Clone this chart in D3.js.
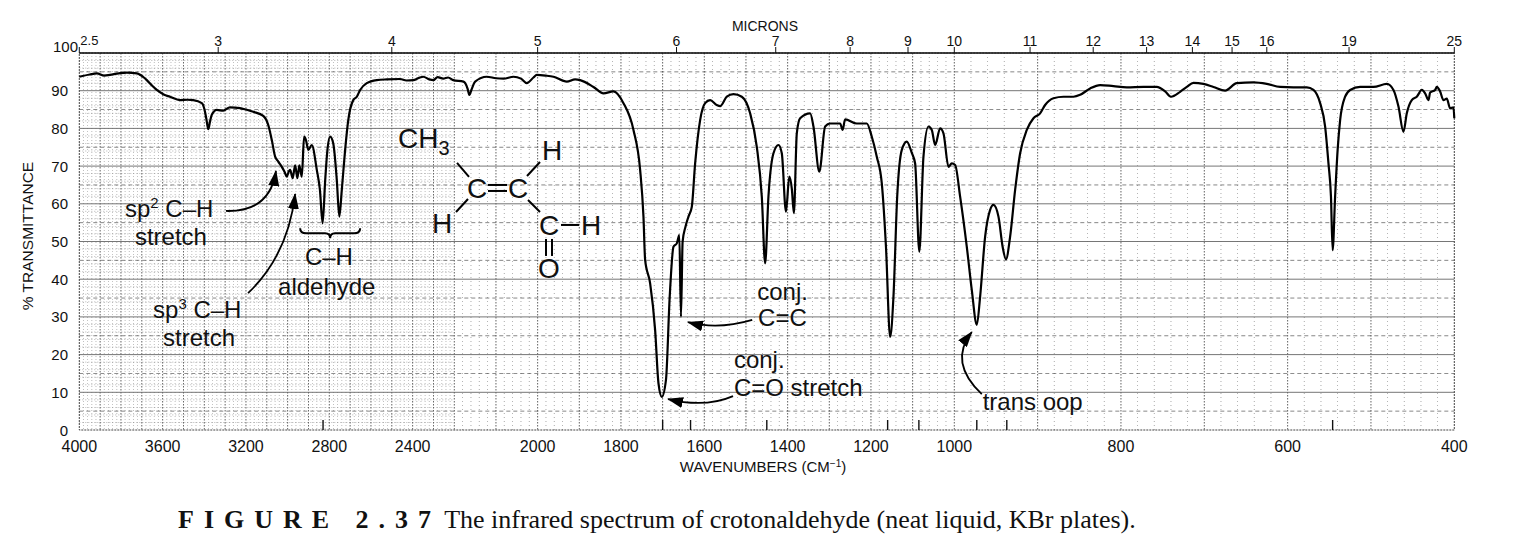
<!DOCTYPE html>
<html>
<head>
<meta charset="utf-8">
<script src="https://cdn.jsdelivr.net/npm/d3@7"></script>
<style>
  body { margin: 0; background: #fff; }
  svg { display: block; }
  text { font-family: "Liberation Sans", Arial, sans-serif; fill: #111; }
  .cap { font-family: "Liberation Serif", "Times New Roman", serif; }
</style>
</head>
<body>
<svg id="chart" width="1538" height="557"></svg>
<script>
// crotonaldehyde IR trace (cm-1 -> %T)
const wavenumbers = [4000,3950,3916,3880,3853,3810,3772,3724,3690,3676,3650,3628,3595,3565,3517,3480,3453,3412,3400,3390,3381,3372,3364,3340,3309,3277,3229,3200,3165,3117,3093,3076,3060,3045,3028,3015,3004,2995,2988,2976,2964,2953,2944,2932,2921,2912,2901,2884,2860,2845,2832,2820,2809,2796,2781,2764,2752,2740,2724,2709,2685,2668,2652,2620,2572,2524,2460,2430,2397,2370,2349,2320,2301,2280,2253,2230,2205,2178,2168,2164,2158,2150,2122,2100,2082,2058,2040,2026,2010,2002,1980,1962,1930,1910,1898,1866,1842,1818,1794,1770,1754,1746,1742,1730,1718,1710,1702,1692,1683,1674,1666,1660,1656,1652,1645,1638,1630,1622,1610,1598,1586,1570,1562,1546,1530,1510,1490,1474,1462,1454,1446,1434,1422,1414,1404,1396,1390,1385,1378,1370,1346,1338,1324,1310,1298,1274,1268,1262,1234,1210,1198,1186,1174,1164,1154,1146,1137,1126,1114,1102,1094,1084,1074,1062,1054,1046,1034,1026,1014,1006,999,993,985,979,973,969,963,957,953,947,942,938,933,927,921,913,905,897,891,881,869,857,849,837,825,809,793,773,757,747,740,729,721,713,701,689,675,661,641,625,609,593,577,569,561,555,551,548,546,543,540,537,531,525,513,497,481,473,467,461,457,451,445,439,435,431,429,423,421,417,413,409,405,401,400];
const transmittance = [93.7,94.3,94.6,94.0,94.2,94.6,94.8,94.6,93.5,92.8,91.3,90.2,89.0,88.4,87.5,87.6,87.5,86.7,85.2,82.5,79.8,82.0,83.6,84.9,84.7,85.6,85.4,85.0,84.4,83.3,80.9,76.9,72.5,71.2,69.8,68.5,67.2,68.5,69.0,66.8,70.2,66.8,70.2,67.2,77.8,76.9,74.3,75.6,69.0,63.7,54.8,66.0,74.3,77.8,76.0,66.3,56.6,63.7,74.3,82.2,87.5,88.4,90.2,92.0,92.8,93.0,93.1,92.7,92.8,93.4,93.7,93.0,92.8,93.6,93.2,93.5,92.8,92.4,90.5,88.9,90.5,92.4,93.7,93.3,93.2,93.7,93.2,92.0,93.5,94.2,94.0,93.7,92.4,93.0,92.8,91.0,89.3,89.8,86.7,79.6,69.0,56.6,45.1,38.9,26.5,12.4,8.8,13.3,35.4,48.6,49.5,51.7,30.0,50.0,54.0,56.6,59.2,70.7,82.2,86.7,87.5,86.2,85.9,88.4,89.1,88.4,84.0,75.1,61.9,44.2,62.0,73.4,75.6,73.4,57.9,67.2,64.0,57.5,78.7,82.7,84.0,80.5,68.5,80.5,81.3,81.3,79.6,82.4,81.3,81.3,77.8,72.5,65.4,48.6,24.7,35.4,62.0,74.3,76.5,73.5,70.7,47.3,72.5,80.5,79.6,75.6,80.0,78.7,69.8,70.7,70.3,61.9,48.6,37.1,27.9,35.4,51.3,58.4,59.7,56.6,48.6,45.3,51.3,63.7,73.4,79.6,82.7,84.0,86.2,88.0,88.4,88.4,88.9,90.6,91.5,91.2,90.9,91.0,91.0,89.8,88.4,89.7,91.0,92.1,91.8,91.0,90.0,92.0,92.2,91.8,91.0,90.9,90.9,90.2,86.7,80.5,70.7,61.9,47.7,62.0,74.3,82.2,88.4,90.2,91.0,91.0,91.8,90.2,85.8,79.1,84.0,87.5,88.4,90.2,89.3,87.5,89.5,90.2,91.0,89.8,87.5,87.9,85.3,85.6,82.7];

const wnTicks = [4000,3600,3200,2800,2400,2000,1800,1600,1400,1200,1000,800,600,400];
const micronTicks = [2.5,3,4,5,6,7,8,9,10,11,12,13,14,15,16,19,25];
const pctTicks = [0,10,20,30,40,50,60,70,80,90];
const peakMarks = [2830,1700,1633,1450,1160,1085,973,937,546];

// band labels, anchored in chart units (cm-1, %T); ^ marks a superscript digit
const bandLabels = [
  {w: 3781, t: 56.5, s: "sp^2 C–H"},
  {w: 3733, t: 49.1, s: "stretch"},
  {w: 3646, t: 29.7, s: "sp^3 C–H"},
  {w: 3598, t: 22.3, s: "stretch"},
  {w: 2917, t: 43.8, s: "C–H"},
  {w: 3046, t: 35.8, s: "aldehyde"},
  {w: 1473, t: 34.5, s: "conj."},
  {w: 1471, t: 27.6, s: "C=C"},
  {w: 1529, t: 16.4, s: "conj."},
  {w: 1529, t: 9.0, s: "C=O stretch"},
  {w: 966, t: 5.3, s: "trans oop"}
];
const arrows = [
  {from: [3296, 58.1], ctrl: [3085, 57.8], to: [3056, 68.7]},
  {from: [3190, 36.3], ctrl: [2998, 46.4], to: [2964, 62.6]},
  {from: [1485, 29.2], ctrl: [1567, 26.5], to: [1639, 28.6]},
  {from: [1531, 9.0], ctrl: [1598, 5.8], to: [1687, 8.2]},
  {from: [967, 9.5], ctrl: [1015, 18.0], to: [979, 26.0]}
];

const svg = d3.select("#chart");
const x = d3.scaleLinear().domain([4000, 2200, 1000, 400]).range([79.3, 454.3, 954.3, 1454.3]);
const y = d3.scaleLinear().domain([0, 100]).range([430, 53]);
const xL = x(4000), xR = x(400), yT = y(100), yB = y(0);

// ---- chart paper grid
const grid = svg.append("g");
grid.selectAll("line.v").data(d3.range(3980, 400, -20)).join("line")
  .attr("x1", d => x(d)).attr("x2", d => x(d)).attr("y1", yT).attr("y2", yB)
  .attr("stroke", d => d % 100 === 0 ? "#333" : "#555")
  .attr("stroke-width", d => d % 100 === 0 ? 0.9 : 0.7)
  .attr("stroke-dasharray", d => d % 100 === 0 ? "1.5,1.5" : (d > 2200 ? "1,2" : "1,3"))
  .attr("opacity", d => d % 100 === 0 ? 0.85 : (d > 2200 ? 0.55 : 0.7));
// fine rows only on the compressed high-frequency part
grid.selectAll("line.f").data(d3.range(2, 100, 2).filter(p => p % 10 !== 0)).join("line")
  .attr("x1", xL).attr("x2", x(2200)).attr("y1", d => y(d)).attr("y2", d => y(d))
  .attr("stroke", "#555").attr("stroke-width", 0.7).attr("stroke-dasharray", "1,2").attr("opacity", 0.6);
grid.selectAll("line.h5").data(d3.range(5, 100, 10)).join("line")
  .attr("x1", xL).attr("x2", xR).attr("y1", d => y(d)).attr("y2", d => y(d))
  .attr("stroke", "#444").attr("stroke-width", 0.8).attr("stroke-dasharray", "4,3").attr("opacity", 0.8);
grid.selectAll("line.h10").data(d3.range(10, 100, 10)).join("line")
  .attr("x1", xL).attr("x2", xR).attr("y1", d => y(d)).attr("y2", d => y(d))
  .attr("stroke", "#666").attr("stroke-width", 0.9);

// frame
svg.append("rect").attr("x", xL).attr("y", yT).attr("width", xR - xL).attr("height", yB - yT)
  .attr("fill", "none").attr("stroke", "#444").attr("stroke-width", 1).attr("stroke-dasharray", "2,1");
svg.append("line").attr("x1", xL).attr("x2", xR).attr("y1", yT).attr("y2", yT)
  .attr("stroke", "#111").attr("stroke-width", 1.3);

// ---- axes text
svg.selectAll("text.ylab").data(pctTicks).join("text")
  .attr("x", 68).attr("y", d => y(d) + 5.5).attr("text-anchor", "end")
  .style("font-size", "15px").text(d => d);
svg.append("text").attr("x", 78).attr("y", yT - 1).attr("text-anchor", "end")
  .style("font-size", "15px").text("100");

svg.selectAll("text.xlab").data(wnTicks).join("text")
  .attr("x", d => x(d)).attr("y", 452).attr("text-anchor", "middle")
  .style("font-size", "16px").text(d => d);

svg.selectAll("line.mt").data(micronTicks).join("line")
  .attr("x1", d => x(10000 / d)).attr("x2", d => x(10000 / d)).attr("y1", yT - 6).attr("y2", yT)
  .attr("stroke", "#111").attr("stroke-width", 1);
svg.selectAll("text.mlab").data(micronTicks).join("text")
  .attr("x", d => d === 2.5 ? x(4000) + 1 : x(10000 / d)).attr("y", d => d === 2.5 ? 45 : 46)
  .attr("text-anchor", d => d === 2.5 ? "start" : "middle")
  .style("font-size", d => d === 2.5 ? "13px" : "14px").text(d => d);

svg.append("text").attr("x", 765).attr("y", 31).attr("text-anchor", "middle")
  .style("font-size", "14px").text("MICRONS");
svg.append("text").attr("transform", "translate(33,236) rotate(-90)").attr("text-anchor", "middle")
  .style("font-size", "15.5px").text("% TRANSMITTANCE");
const wl = svg.append("text").attr("x", 763).attr("y", 472).attr("text-anchor", "middle").style("font-size", "15px");
wl.append("tspan").text("WAVENUMBERS (CM");
wl.append("tspan").attr("dy", -5).style("font-size", "10px").text("−1");
wl.append("tspan").attr("dy", 5).text(")");

// peak marks on the bottom edge
svg.selectAll("line.pk").data(peakMarks).join("line")
  .attr("x1", d => x(d)).attr("x2", d => x(d)).attr("y1", yB - 10).attr("y2", yB)
  .attr("stroke", "#111").attr("stroke-width", 1.4);

// ---- spectrum
const spectrum = wavenumbers.map((w, i) => ({w, t: transmittance[i]}));
svg.append("path").datum(spectrum)
  .attr("d", d3.line().x(d => x(d.w)).y(d => y(d.t)).curve(d3.curveMonotoneX))
  .attr("fill", "none").attr("stroke", "#000").attr("stroke-width", 2.2)
  .attr("stroke-linejoin", "round");

// ---- annotations
svg.append("defs").append("marker").attr("id", "ah")
  .attr("viewBox", "0 0 16 11").attr("refX", 15).attr("refY", 5.5)
  .attr("markerWidth", 16).attr("markerHeight", 11).attr("markerUnits", "userSpaceOnUse")
  .attr("orient", "auto")
  .append("path").attr("d", "M0,0 L16,5.5 L0,11 Z").attr("fill", "#000");

svg.selectAll("path.arr").data(arrows).join("path")
  .attr("d", a => `M${x(a.from[0])},${y(a.from[1])} Q${x(a.ctrl[0])},${y(a.ctrl[1])} ${x(a.to[0])},${y(a.to[1])}`)
  .attr("fill", "none").attr("stroke", "#000").attr("stroke-width", 1.8)
  .attr("marker-end", "url(#ah)");

const lab = svg.selectAll("text.band").data(bandLabels).join("text")
  .attr("x", d => x(d.w)).attr("y", d => y(d.t)).style("font-size", "24px");
lab.each(function(d) {
  const t = d3.select(this);
  const parts = d.s.split("^");
  t.append("tspan").text(parts[0]);
  if (parts.length > 1) {
    t.append("tspan").attr("dy", -9).style("font-size", "15px").text(parts[1][0]);
    t.append("tspan").attr("dy", 9).text(parts[1].slice(1));
  }
});

// brace under the two aldehyde C–H bands
{
  const a = x(2940), b = x(2652), m = (a + b) / 2, yb = y(52.2);
  svg.append("path")
    .attr("d", `M${a},${yb - 5} Q${a},${yb} ${a + 6},${yb} L${m - 5},${yb} Q${m},${yb} ${m},${yb + 5} Q${m},${yb} ${m + 5},${yb} L${b - 6},${yb} Q${b},${yb} ${b},${yb - 5}`)
    .attr("fill", "none").attr("stroke", "#000").attr("stroke-width", 2);
}

// structure of crotonaldehyde
{
  const s = svg.append("g").attr("transform", `translate(${x(2145.5)},${y(64.2)})`);
  const atom = (tx, ty, str) => s.append("text").attr("x", tx).attr("y", ty)
    .attr("text-anchor", "middle").style("font-size", "28px").text(str);
  const bond = (a, b, c, d) => s.append("line").attr("x1", a).attr("y1", b).attr("x2", c).attr("y2", d)
    .attr("stroke", "#000").attr("stroke-width", 2);
  const ch3 = s.append("text").attr("x", -79).attr("y", -40).style("font-size", "28px");
  ch3.append("tspan").text("CH");
  ch3.append("tspan").attr("dy", 7).style("font-size", "20px").text("3");
  atom(0, 10, "C");
  atom(41, 10, "C");
  atom(75, -28, "H");
  atom(-35, 45, "H");
  atom(72, 47, "C");
  atom(114, 47, "H");
  atom(72, 90, "O");
  bond(-20, -25, -8, -11);
  bond(11, -3, 30, -3);
  bond(11, 3, 30, 3);
  bond(50, -12, 63, -26);
  bond(-9, 11, -21, 24);
  bond(51, 12, 63, 24);
  bond(84, 37, 102, 37);
  bond(69, 51, 69, 68);
  bond(75, 51, 75, 68);
}

// ---- caption
const cap = svg.append("text").attr("class", "cap").attr("x", 178).attr("y", 528).style("font-size", "26px");
cap.append("tspan").attr("font-weight", "bold").attr("letter-spacing", "10px").text("FIGURE 2.37");
cap.append("tspan").attr("dx", 3).text("The infrared spectrum of crotonaldehyde (neat liquid, KBr plates).");
</script>
</body>
</html>
